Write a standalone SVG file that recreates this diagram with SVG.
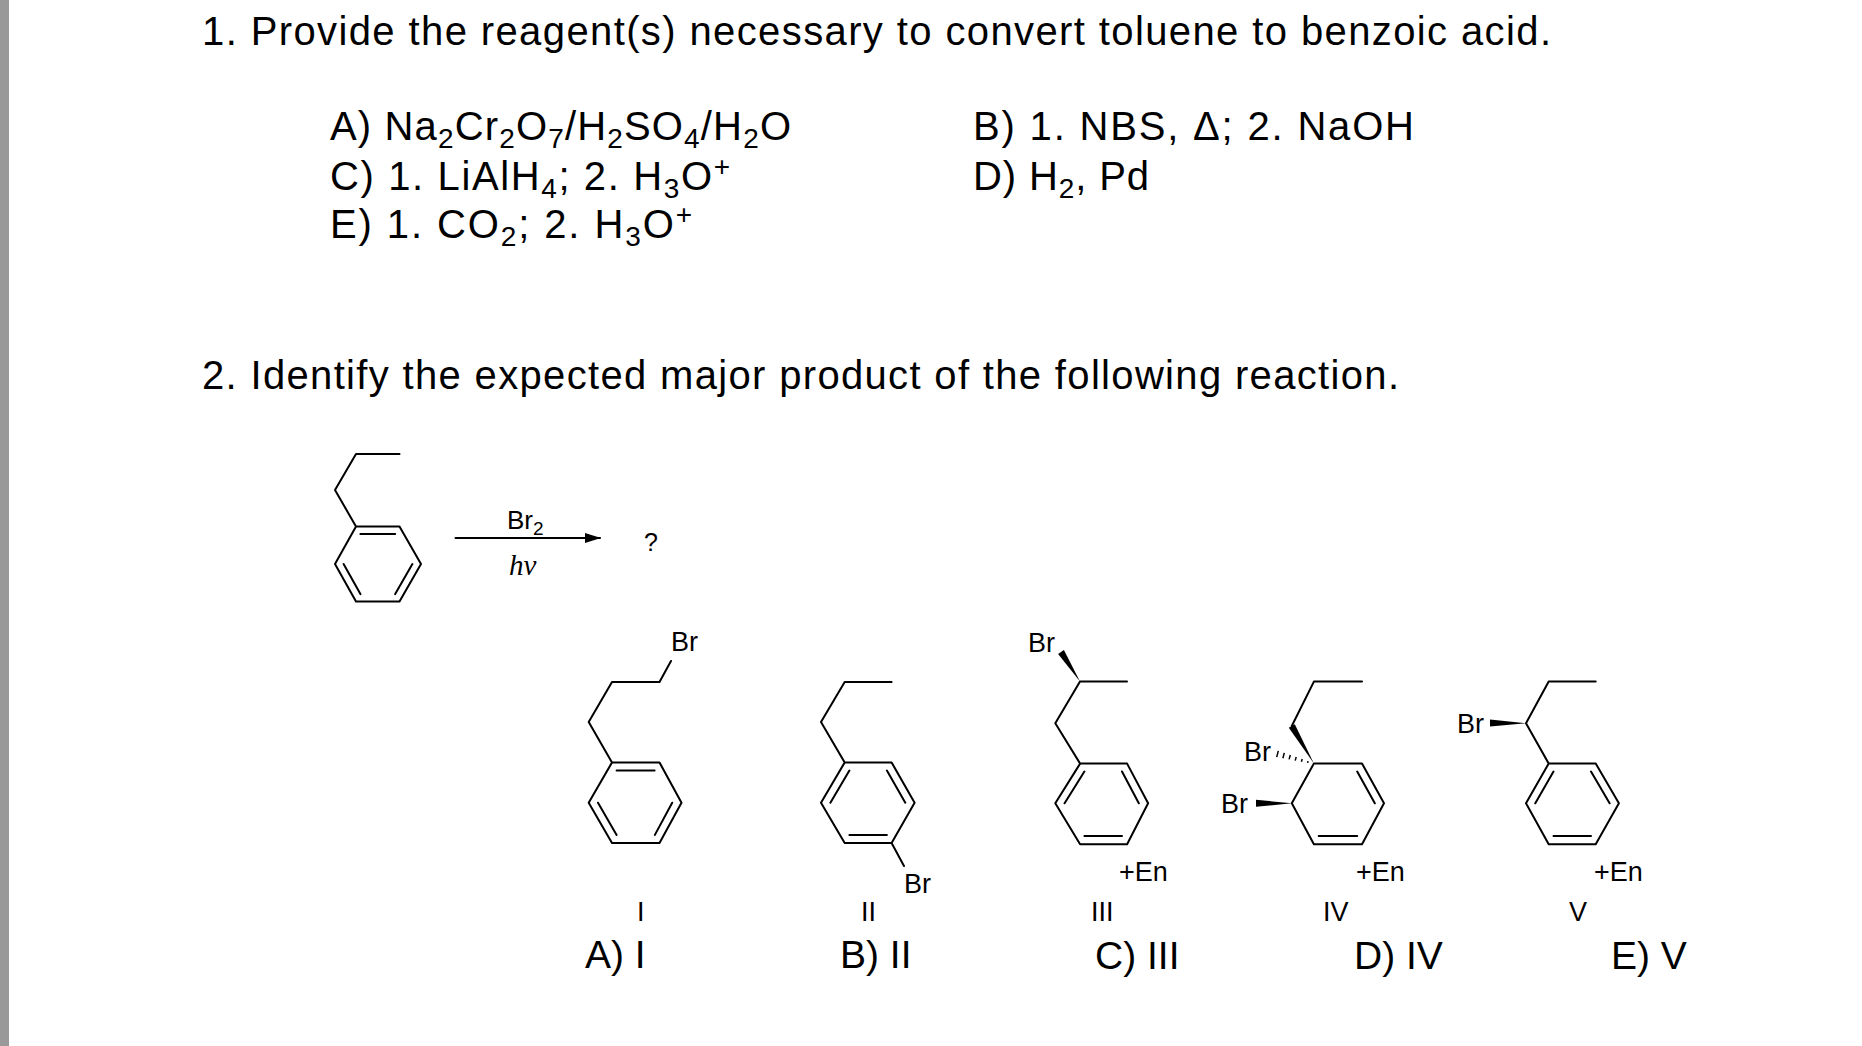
<svg xmlns="http://www.w3.org/2000/svg" width="1862" height="1046" viewBox="0 0 1862 1046">
<style>
.t{font-family:"Liberation Sans",Arial,sans-serif;fill:#000}
.q{font-size:40px}
.s{font-size:28px}
.lb{font-size:27px}
.ans{font-size:39px}
.b{stroke:#000;stroke-width:2;fill:none;stroke-linecap:round;stroke-linejoin:round}
</style>
<defs><marker id="ah" markerWidth="16" markerHeight="10" refX="15" refY="5" orient="auto" markerUnits="userSpaceOnUse"><path d="M0,0 L16,5 L0,10 Z"/></marker></defs>
<rect width="1862" height="1046" fill="#fff"/>
<rect x="0" y="0" width="9" height="1046" fill="#999"/>
<g id="q1">
<text class="t q" x="202" y="45" textLength="1349">1. Provide the reagent(s) necessary to convert toluene to benzoic acid.</text>
<text class="t q" x="330" y="140" textLength="461">A) Na<tspan class="s" dy="8">2</tspan><tspan dy="-8">Cr</tspan><tspan class="s" dy="8">2</tspan><tspan dy="-8">O</tspan><tspan class="s" dy="8">7</tspan><tspan dy="-8">/H</tspan><tspan class="s" dy="8">2</tspan><tspan dy="-8">SO</tspan><tspan class="s" dy="8">4</tspan><tspan dy="-8">/H</tspan><tspan class="s" dy="8">2</tspan><tspan dy="-8">O</tspan></text>
<text class="t q" x="973" y="140" textLength="441">B) 1. NBS, Δ;  2. NaOH</text>
<text class="t q" x="330" y="190" textLength="400">C) 1. LiAlH<tspan class="s" dy="8">4</tspan><tspan dy="-8">;  2. H</tspan><tspan class="s" dy="8">3</tspan><tspan dy="-8">O</tspan><tspan class="s" dy="-14">+</tspan></text>
<text class="t q" x="973" y="190" textLength="176">D) H<tspan class="s" dy="8">2</tspan><tspan dy="-8">, Pd</tspan></text>
<text class="t q" x="330" y="238" textLength="362">E) 1. CO<tspan class="s" dy="8">2</tspan><tspan dy="-8">;  2. H</tspan><tspan class="s" dy="8">3</tspan><tspan dy="-8">O</tspan><tspan class="s" dy="-14">+</tspan></text>
</g>
<g id="q2">
<text class="t q" x="202" y="389" textLength="1197">2. Identify the expected major product of the following reaction.</text>
</g>
<g id="reactant">
<path class="b" d="M356,526.5 L399.5,526.5 L421,564 L399.5,601.6 L356,601.6 L335,564 Z M360.4,534 L395.2,534 M343.6,564 L360.4,594.1 M412.4,564 L395.2,594.1 M356,526.5 L335,490 L356,454 L399.5,454"/>
</g>
<g id="connectors">
<line class="b" x1="455.5" y1="538" x2="600" y2="538" marker-end="url(#ah)"/>
</g>
<g id="conditions">
<text class="t" font-size="26" x="507" y="529">Br<tspan font-size="19" dy="6">2</tspan></text>
<text font-family="Liberation Serif,serif" font-style="italic" font-size="29" x="509" y="575">hν</text>
<text class="t" font-size="25" x="644" y="551">?</text>
</g>
<g id="p1">
<path class="b" d="M612,762.4 L659.5,762.4 L681.5,802.7 L659.5,843 L612,843 L588.7,802.7 Z M616.6,770.5 L654.6,770.5 M598,802.7 L616.6,834.9 M672.2,802.7 L654.9,834.9 M612,762.4 L588.7,722 L612,682 L659.5,682 L671,661"/>
<text class="t lb" x="671" y="651">Br</text>
<text class="t lb" x="637" y="921" font-size="28">I</text>
<text class="t ans" x="585" y="968">A) I</text>
</g>
<g id="p2">
<path class="b" d="M844.7,762.4 L891.6,762.4 L914.6,802.7 L891.6,843 L844.7,843 L821,802.7 Z M830.4,802.7 L849.4,770.5 M886.9,770.5 L905.3,802.7 M849.4,834.9 L886.9,834.9 M844.7,762.4 L821,722 L844.7,682 L891.6,682 M891.6,843 L904,866"/>
<text class="t lb" x="904" y="893">Br</text>
<text class="t lb" x="861" y="921" font-size="28">II</text>
<text class="t ans" x="840" y="968">B) II</text>
</g>
<g id="p3">
<path class="b" d="M1080.1,763.6 L1127.1,763.6 L1148.1,803.3 L1127.1,844.3 L1080.1,844.3 L1055.3,803.3 Z M1064.6,803.3 L1084.4,771.5 M1122,771.5 L1138.8,803.3 M1084.4,836.1 L1122,836.1 M1080.1,763.6 L1055.3,723.3 L1080,681.6 L1127,681.6"/>
<polygon points="1080,681.6 1063.9,650.1 1058.1,653.9"/>
<text class="t lb" x="1028" y="652">Br</text>
<text class="t lb" x="1119" y="881">+En</text>
<text class="t lb" x="1091" y="921" font-size="28">III</text>
<text class="t ans" x="1095" y="969">C) III</text>
</g>
<g id="p4">
<path class="b" d="M1313.9,763.6 L1362,763.6 L1384,803.3 L1362,844.3 L1313.9,844.3 L1291.8,803.3 Z M1357.2,771.5 L1374.8,803.3 M1318.7,836.1 L1357.2,836.1 M1291.8,726 L1313.9,681.6 L1362,681.6"/>
<polygon points="1313.9,763.6 1294.8,724.2 1288.8,727.8"/>
<path stroke="#000" stroke-width="1.5" d="M1308,761.1 L1307.6,762.9 M1302.2,759 L1301.4,761.8 M1296.2,757 L1295.2,760.6 M1290.3,755 L1289.1,759.4 M1284.3,752.9 L1282.9,758.3 M1278.3,750.9 L1276.7,757.1"/>
<polygon points="1291.8,803.3 1256,799.8 1256,806.8"/>
<text class="t lb" x="1244" y="761">Br</text>
<text class="t lb" x="1221" y="813">Br</text>
<text class="t lb" x="1356" y="881">+En</text>
<text class="t lb" x="1323" y="921" font-size="28">IV</text>
<text class="t ans" x="1354" y="969">D) IV</text>
</g>
<g id="p5">
<path class="b" d="M1548.7,763.6 L1595.7,763.6 L1618.9,803.3 L1595.7,844.3 L1548.7,844.3 L1526,803.3 Z M1535.3,803.3 L1553.5,771.5 M1591,771.5 L1609.6,803.3 M1553.5,836.1 L1591,836.1 M1548.7,763.6 L1526,723.3 L1548.7,681.6 L1595.7,681.6"/>
<polygon points="1526,723.3 1490,719.5 1490,726.5"/>
<text class="t lb" x="1457" y="733">Br</text>
<text class="t lb" x="1594" y="881">+En</text>
<text class="t lb" x="1569" y="921" font-size="28">V</text>
<text class="t ans" x="1611" y="969">E) V</text>
</g>
</svg>
